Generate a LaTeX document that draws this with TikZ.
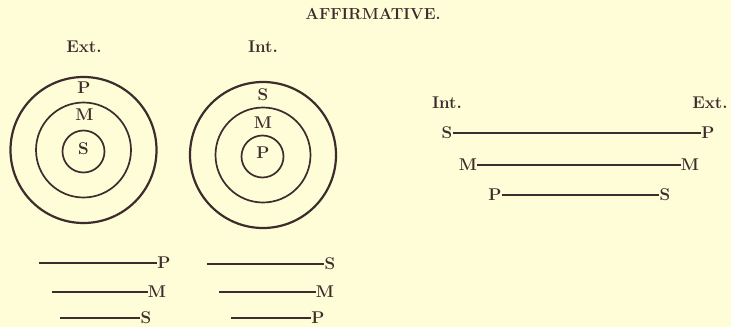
\documentclass[tikz,border=0pt]{standalone}
\usepackage{fontspec}
\usepackage{tikz}
\usetikzlibrary{positioning}
\definecolor{paper}{HTML}{FEFDD8}
\definecolor{ink}{HTML}{3E2C2C}

\begin{document}
\begin{tikzpicture}[x=1pt, y=-1pt,
        lbl/.style={text=ink, font=\fontsize{17}{19}\selectfont\bfseries, inner sep=0pt},
        head/.style={text=ink, font=\fontsize{17}{19}\selectfont\bfseries, inner sep=0pt},
        ring/.style={draw=ink, line width=1.7pt},
        bar/.style={draw=ink, line width=1.1pt}]
        \def\rOut{73} \def\rMid{47.5} \def\rIn{21}

        \fill[paper] (0,0) rectangle (731,327);
        \useasboundingbox (0,0) rectangle (731,327);

        \node[head, font=\fontsize{16}{18}\selectfont\bfseries] (title) at (373,14) {AFFIRMATIVE.};

        % extension circles
        \node[head] (extC) at (84,47) {Ext.};
        \begin{scope}[shift={(83.5,150)}]
            \draw[ring, line width=2.2pt] (0,0) circle (\rOut);
            \draw[ring] (0,0) circle (\rMid);
            \draw[ring] (0,1.5) circle (\rIn);
            \node[lbl] (eP) at (0.5,-62) {P};
            \node[lbl] (eM) at (1,-35) {M};
            \node[lbl] (eS) at (0,-1) {S};
        \end{scope}

        % intension circles
        \node[head] (intC) at (263,47) {Int.};
        \begin{scope}[shift={(263,155)}]
            \draw[ring, line width=2.2pt] (0,0) circle (\rOut);
            \draw[ring] (0,0) circle (\rMid);
            \draw[ring] (-0.5,1.5) circle (\rIn);
            \node[lbl] (iS) at (0,-60) {S};
            \node[lbl] (iM) at (0,-32) {M};
            \node[lbl] (iP) at (0,-2) {P};
        \end{scope}

        % lines under the circles
        \node[lbl] (lP) at (164,263) {P};
        \node[lbl] (lM) at (157,292) {M};
        \node[lbl] (lS) at (146,318) {S};
        \coordinate (lP0) at (39,263);
        \coordinate (lM0) at (52,292);
        \coordinate (lS0) at (60,318);
        \draw[bar] (lP0) -- (lP);
        \draw[bar] (lM0) -- (lM);
        \draw[bar] (lS0) -- (lS);

        \node[lbl] (rS) at (330,264) {S};
        \node[lbl] (rM) at (325,292) {M};
        \node[lbl] (rP) at (318,318) {P};
        \coordinate (rS0) at (207,264);
        \coordinate (rM0) at (219,292);
        \coordinate (rP0) at (231,318);
        \draw[bar] (rS0) -- (rS);
        \draw[bar] (rM0) -- (rM);
        \draw[bar] (rP0) -- (rP);

        % int./ext. scale
        \node[head] (intS) at (447,103) {Int.};
        \node[head] (extS) at (710,103) {Ext.};
        \node[lbl] (sS) at (447,133) {S};
        \node[lbl] (sP) at (708,133) {P};
        \node[lbl] (mM1) at (468,165) {M};
        \node[lbl] (mM2) at (690,165) {M};
        \node[lbl] (pP) at (495,195) {P};
        \node[lbl] (pS) at (665,195) {S};
        \draw[bar] (sS) -- (sP);
        \draw[bar] (mM1) -- (mM2);
        \draw[bar] (pP) -- (pS);
    \end{tikzpicture}
\end{document}
